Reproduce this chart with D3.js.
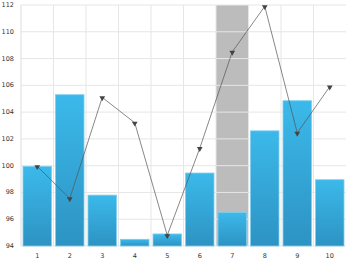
<!DOCTYPE html>
<html>
<head>
<meta charset="utf-8">
<script src="https://cdn.jsdelivr.net/npm/d3@7"></script>
<style>
  body { margin: 0; background: #fff; }
  svg text { font-family: "DejaVu Sans", sans-serif; font-size: 6.5px; fill: #333; }
</style>
</head>
<body>
<svg width="350" height="264"></svg>
<script>
const categories = ["1", "2", "3", "4", "5", "6", "7", "8", "9", "10"];
const barValues = [99.95, 105.3, 97.8, 94.5, 94.9, 99.45, 96.5, 102.6, 104.85, 98.95];
const lineValues = [99.95, 97.55, 105.1, 103.2, 94.8, 101.3, 108.5, 111.9, 102.45, 105.9];
const yTicks = [94, 96, 98, 100, 102, 104, 106, 108, 110, 112];
const selected = "7";

const svg = d3.select("svg");
const margin = {top: 5, right: 4, bottom: 18, left: 21};
const width = +svg.attr("width") - margin.left - margin.right;
const height = +svg.attr("height") - margin.top - margin.bottom;

const x = d3.scaleBand().domain(categories).range([0, width]);
const y = d3.scaleLinear().domain([94, 112]).range([height, 0]);

const defs = svg.append("defs");
const grad = defs.append("linearGradient")
    .attr("id", "barGrad")
    .attr("x1", 0).attr("y1", 0).attr("x2", 0).attr("y2", 1);
grad.append("stop").attr("offset", "0%").attr("stop-color", "#3bb9ea");
grad.append("stop").attr("offset", "100%").attr("stop-color", "#2d93c3");

const g = svg.append("g")
    .attr("transform", "translate(" + margin.left + "," + margin.top + ")");

// selected category band
g.append("rect")
    .attr("x", x(selected))
    .attr("y", 0)
    .attr("width", x.bandwidth())
    .attr("height", height)
    .attr("fill", "#bcbcbc");

// grid
g.selectAll(".hgrid")
    .data(yTicks)
    .enter().append("line")
    .attr("x1", 0).attr("x2", width)
    .attr("y1", d => y(d)).attr("y2", d => y(d))
    .attr("stroke", "#e6e6e6")
    .attr("stroke-width", 1);

g.selectAll(".vgrid")
    .data(categories.slice(1))
    .enter().append("line")
    .attr("x1", d => x(d)).attr("x2", d => x(d))
    .attr("y1", 0).attr("y2", height)
    .attr("stroke", "#e6e6e6")
    .attr("stroke-width", 1);

g.append("line")
    .attr("x1", 0).attr("x2", 0)
    .attr("y1", 0).attr("y2", height)
    .attr("stroke", "#dddddd");

// bars
g.selectAll(".bar")
    .data(barValues)
    .enter().append("rect")
    .attr("class", "bar")
    .attr("x", (d, i) => x(categories[i]) + 2)
    .attr("y", d => y(d))
    .attr("width", x.bandwidth() - 4)
    .attr("height", d => height - y(d))
    .attr("fill", "url(#barGrad)")
    .attr("stroke", "#7fcdee")
    .attr("stroke-width", 0.8);

// line
const line = d3.line()
    .x((d, i) => x(categories[i]) + x.bandwidth() / 2)
    .y(d => y(d));

g.append("path")
    .datum(lineValues)
    .attr("d", line)
    .attr("fill", "none")
    .attr("stroke", "#555")
    .attr("stroke-width", 0.7);

const tri = d3.symbol().type(d3.symbolTriangle).size(14);
g.selectAll(".marker")
    .data(lineValues)
    .enter().append("path")
    .attr("d", tri)
    .attr("transform", (d, i) => "translate(" + (x(categories[i]) + x.bandwidth() / 2) + "," + (y(d) + 0.5) + ") rotate(180)")
    .attr("fill", "#444");

// axes labels
g.selectAll(".xlabel")
    .data(categories)
    .enter().append("text")
    .attr("x", d => x(d) + x.bandwidth() / 2)
    .attr("y", height + 12)
    .attr("text-anchor", "middle")
    .text(d => d);

g.selectAll(".ylabel")
    .data(yTicks)
    .enter().append("text")
    .attr("x", -7)
    .attr("y", d => y(d) + 2)
    .attr("text-anchor", "end")
    .text(d => d);
</script>
</body>
</html>
